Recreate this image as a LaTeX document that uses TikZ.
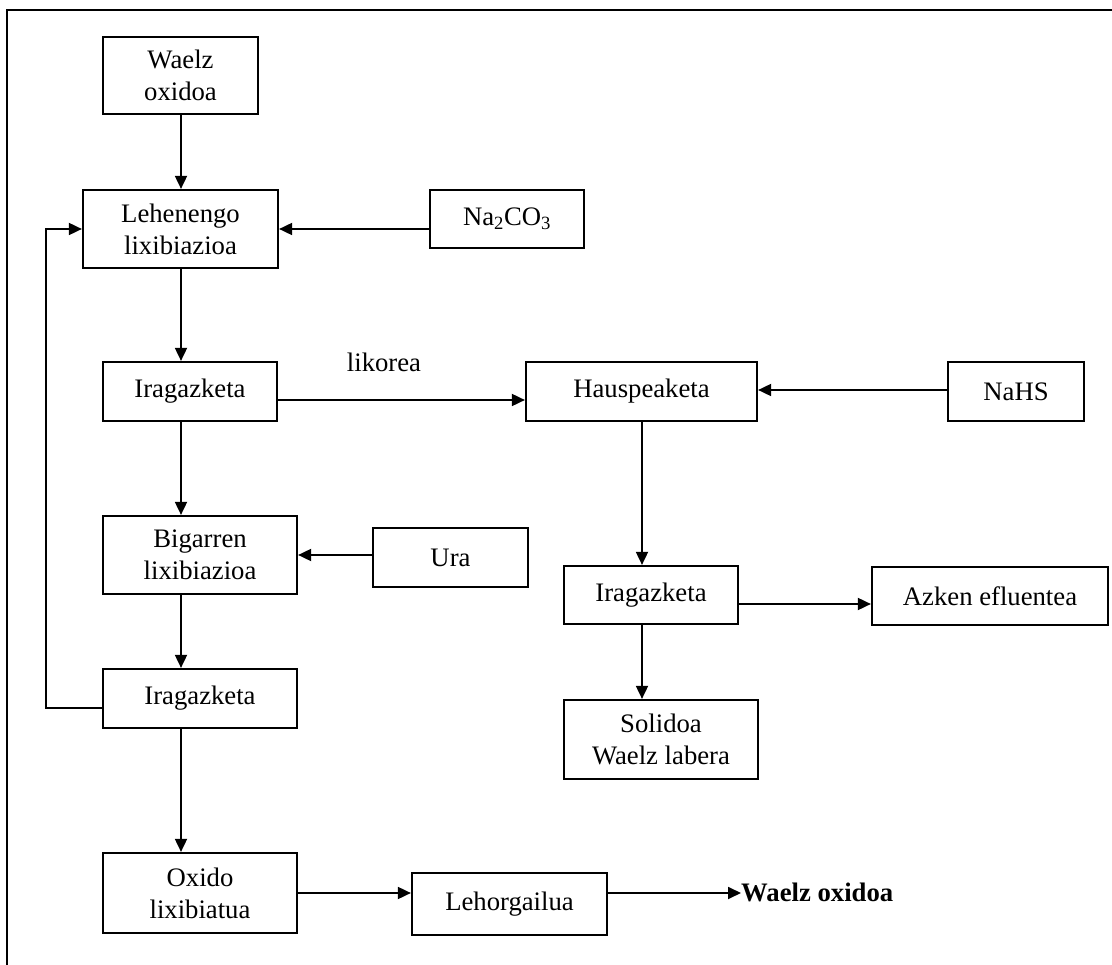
\documentclass[tikz,border=0pt]{standalone}
\usepackage{fontspec}
\setmainfont{Liberation Serif}
\usetikzlibrary{arrows.meta,calc}

\tikzset{
  box/.style={draw, line width=2.2pt, inner sep=0pt, align=center,
    font=\fontsize{26.7}{32}\selectfont},
  arr/.style={line width=1.8pt, -{Triangle[length=13pt,width=12pt]}},
  link/.style={line width=1.8pt},
  label/.style={inner sep=0pt, font=\fontsize{26.7}{32}\selectfont}
}

\begin{document}
\begin{tikzpicture}[x=1pt,y=-1pt]
\useasboundingbox (0,0) rectangle (1112,965);

% outer frame (top and left edges)
\draw[line width=1.8pt] (7,965) -- (7,10) -- (1112,10);

% column guides for the vertical connectors
\coordinate (colL) at (181,0);
\coordinate (colR) at (642,0);
\coordinate (loop) at (46,0);

% left column
\node[box, minimum width=155pt, minimum height=77pt] (waelz) at (180.5,75.5) {Waelz\\oxidoa};
\node[box, minimum width=195pt, minimum height=78pt] (leh) at (180.5,229) {Lehenengo\\lixibiazioa};
\node[box, minimum width=154pt, minimum height=58pt] (na) at (507,219) {Na\textsubscript{2}CO\textsubscript{3}};
\node[box, minimum width=174pt, minimum height=59pt] (ira1) at (190,391.5) {Iragazketa};
\node[box, minimum width=194pt, minimum height=78pt] (big) at (200,555) {Bigarren\\lixibiazioa};
\node[box, minimum width=155pt, minimum height=59pt] (ura) at (450.5,557.5) {Ura};
\node[box, minimum width=194pt, minimum height=59pt] (ira2) at (200,698.5) {Iragazketa};
\node[box, minimum width=194pt, minimum height=80pt] (oxi) at (200,893) {Oxido\\lixibiatua};
\node[box, minimum width=195pt, minimum height=62pt] (lehor) at (509.5,904) {Lehorgailua};
\node[label, anchor=base west] (out) at (741,901) {\bfseries Waelz oxidoa};

% right column
\node[box, minimum width=231pt, minimum height=59pt] (haus) at (641.5,391.5) {Hauspeaketa};
\node[box, minimum width=136pt, minimum height=59pt] (nahs) at (1016,391.5) {NaHS};
\node[box, minimum width=174pt, minimum height=58pt] (iraR) at (651,595) {Iragazketa};
\node[box, minimum width=236pt, minimum height=58pt] (azken) at (990,596) {Azken efluentea};
\node[box, minimum width=194pt, minimum height=79pt] (sol) at (661,739.5) {Solidoa\\Waelz labera};

\node[label, anchor=base] (lik) at (384,372) {likorea};

% connectors, left column
\draw[arr] (waelz.south -| colL) -- (leh.north -| colL);
\draw[arr] (leh.east -| na.west) -- (leh.east);
\draw[arr] (leh.south -| colL) -- (ira1.north -| colL);
\draw[arr] ([yshift=-8.5pt]ira1.east) -- ([yshift=-8.5pt]ira1.east -| haus.west);
\draw[arr] (ira1.south -| colL) -- (big.north -| colL);
\draw[arr] (ura.west |- big.east) -- (big.east);
\draw[arr] (big.south -| colL) -- (ira2.north -| colL);
\draw[arr] ([yshift=-9.5pt]ira2.west) -| (loop |- leh.west) -- (leh.west);
\draw[arr] (ira2.south -| colL) -- (oxi.north -| colL);
\draw[arr] (oxi.east) -- (oxi.east -| lehor.west);
\draw[arr] (oxi.east -| lehor.east) -- (oxi.east -| out.west);

% connectors, right column
\draw[arr] ([yshift=1.5pt]nahs.west) -- ([yshift=1.5pt]nahs.west -| haus.east);
\draw[arr] (haus.south -| colR) -- (iraR.north -| colR);
\draw[arr] ([yshift=-9pt]iraR.east) -- ([yshift=-9pt]iraR.east -| azken.west);
\draw[arr] (iraR.south -| colR) -- (sol.north -| colR);
\end{tikzpicture}
\end{document}
